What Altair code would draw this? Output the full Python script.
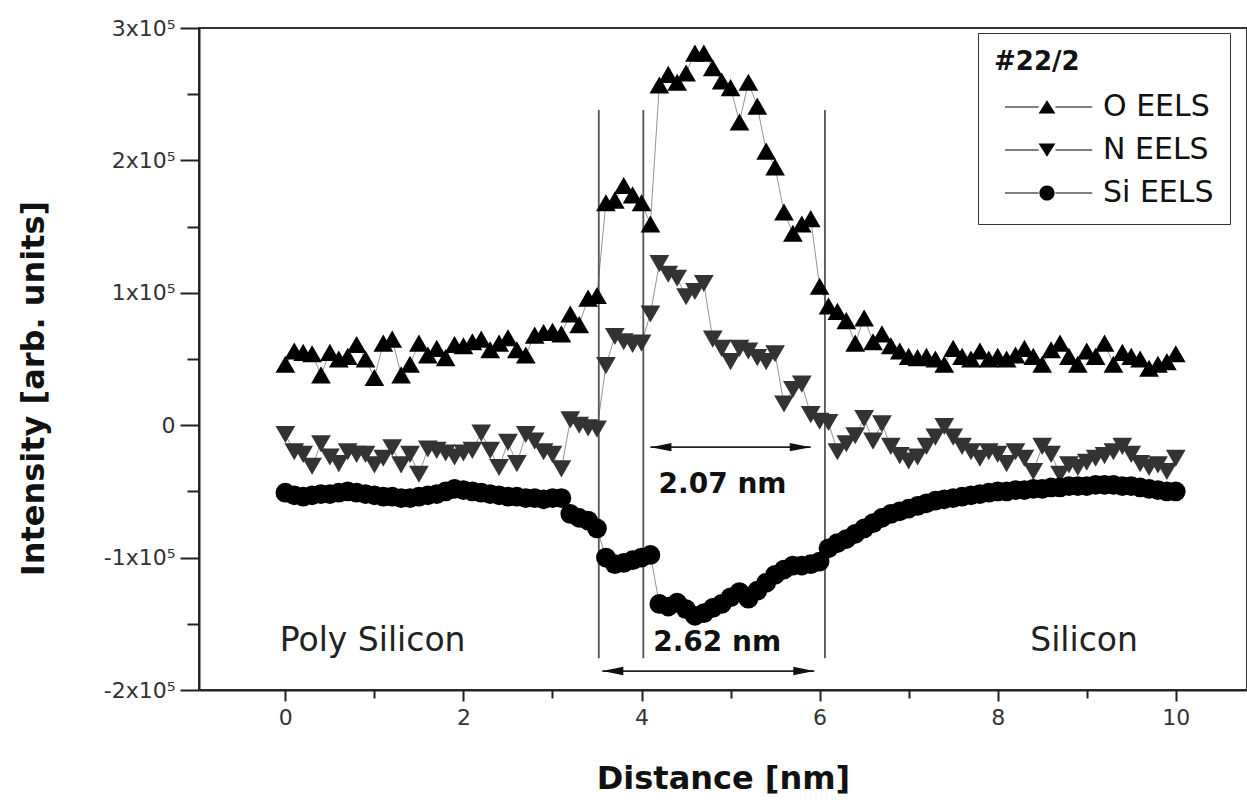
import altair as alt
import pandas as pd

# ---------------- data ----------------
distance = [round(i * 0.1, 1) for i in range(101)]  # 0.0 ... 10.0 nm sample grid

o_eels = [46000, 56000, 55000, 54000, 38000, 55000, 50000, 52000, 61000, 50000,
          36000, 62000, 65000, 38000, 46000, 62000, 53000, 58000, 51000, 61000,
          60000, 63000, 65000, 57000, 62000, 66000, 57000, 53000, 68000, 70000,
          71000, 69000, 84000, 76000, 96000, 98000, 168000, 170000, 181000, 174000,
          168000, 152000, 257000, 265000, 259000, 266000, 281000, 281000, 270000, 260000,
          255000, 229000, 259000, 241000, 207000, 195000, 161000, 145000, 152000, 156000,
          105000, 90000, 86000, 79000, 62000, 81000, 63000, 69000, 60000, 56000,
          52000, 51000, 52000, 50000, 46000, 58000, 52000, 50000, 56000, 50000,
          52000, 50000, 53000, 58000, 52000, 46000, 57000, 62000, 52000, 46000,
          56000, 52000, 62000, 46000, 55000, 52000, 50000, 43000, 46000, 48000,
          54000]

n_eels = [-7000, -20000, -22000, -31000, -14000, -24000, -29000, -20000, -22000, -22000,
          -30000, -25000, -17000, -30000, -22000, -37000, -18000, -19000, -21000, -24000,
          -21000, -19000, -6000, -19000, -32000, -13000, -29000, -7000, -12000, -20000,
          -22000, -33000, 4000, 0, -2000, -3000, 45000, 67000, 63000, 61000,
          62000, 84000, 122000, 114000, 111000, 97000, 101000, 107000, 65000, 58000,
          48000, 58000, 56000, 51000, 48000, 54000, 16000, 27000, 31000, 8000,
          3000, 2000, -20000, -14000, -8000, 5000, -12000, 1000, -16000, -23000,
          -27000, -24000, -16000, -9000, -1000, -9000, -16000, -20000, -25000, -20000,
          -22000, -29000, -20000, -25000, -35000, -16000, -22000, -37000, -30000, -32000,
          -28000, -25000, -23000, -20000, -16000, -22000, -29000, -32000, -30000, -35000,
          -25000]

si_eels = [-51000, -53000, -54000, -53000, -52000, -52000, -51000, -50000, -51000, -52000,
           -53000, -54000, -54000, -55000, -55000, -54000, -53000, -52000, -50000, -48000,
           -49000, -50000, -51000, -52000, -53000, -54000, -54000, -55000, -55000, -56000,
           -55000, -55000, -67000, -70000, -72000, -78000, -100000, -105000, -104000, -102000,
           -100000, -98000, -135000, -137000, -134000, -139000, -144000, -142000, -138000, -135000,
           -130000, -126000, -131000, -125000, -119000, -113000, -109000, -106000, -106000, -105000,
           -103000, -93000, -89000, -86000, -82000, -78000, -74000, -70000, -67000, -65000,
           -63000, -61000, -59000, -57000, -56000, -55000, -54000, -53000, -52000, -51000,
           -50000, -50000, -49000, -49000, -48000, -48000, -47000, -47000, -46000, -46000,
           -46000, -45000, -45000, -45000, -46000, -46000, -47000, -48000, -49000, -50000,
           -50000]

series_names = ["O EELS", "N EELS", "Si EELS"]

# interface marker lines
vline_x = [3.52, 4.02, 6.06]
vline_top = [238000, 238000, 238000]
vline_bottom = [-176000, -176000, -176000]

# width arrows
arrow_left = [4.10, 3.56]
arrow_right = [5.90, 5.94]
arrow_y = [-16600, -185700]

# annotations
note_text = ["2.07 nm", "2.62 nm", "Poly Silicon", "Silicon"]
note_x = [4.91, 4.85, 0.98, 8.97]
note_y = [-51300, -170600, -170600, -170600]
note_bold = [True, True, False, False]

x_major = [0, 2, 4, 6, 8, 10]
x_minor = [1, 3, 5, 7, 9]
y_major = [-200000, -100000, 0, 100000, 200000, 300000]
y_minor = [-150000, -50000, 50000, 150000, 250000]

# ---------------- tables ----------------
rows = []
for name, vals in zip(series_names, [o_eels, n_eels, si_eels]):
    for d, v in zip(distance, vals):
        rows.append({"distance": d, "intensity": v, "series": name})
df = pd.DataFrame(rows)

vlines = pd.DataFrame({"x": vline_x, "top": vline_top, "bottom": vline_bottom})
arrows = pd.DataFrame({"left": arrow_left, "right": arrow_right, "y": arrow_y})
notes = pd.DataFrame({"text": note_text, "x": note_x, "y": note_y, "bold": note_bold})
legend_df = pd.DataFrame({"series": series_names, "distance": [None] * 3, "intensity": [None] * 3})

FONT = "DejaVu Sans"
xscale = alt.Scale(domain=[-0.97, 10.8], nice=False, zero=False)
yscale = alt.Scale(domain=[-200000, 300000], nice=False, zero=False)

# ---------------- axes ----------------
x_axis_main = alt.Axis(orient="bottom", values=x_major, format="d", tickSize=11, tickWidth=2,
                       tickColor="#222", domainColor="#222", domainWidth=2, grid=False,
                       labelFont=FONT, labelFontSize=22, labelColor="#333", labelPadding=6,
                       title="Distance [nm]", titleFont=FONT, titleFontWeight="bold",
                       titleFontSize=32, titleColor="#111", titleBaseline="alphabetic",
                       titleY=98)
y_axis_main = alt.Axis(orient="left", values=y_major, tickSize=19, tickWidth=2,
                       tickColor="#222", domainColor="#222", domainWidth=2, grid=False,
                       labelExpr="datum.value == 0 ? '0' : (datum.value < 0 ? '-' : '') + abs(datum.value/100000) + 'x10\u2075'",
                       labelFont=FONT, labelFontSize=22, labelColor="#333", labelPadding=5,
                       title="Intensity [arb. units]", titleFont=FONT, titleFontWeight="bold",
                       titleFontSize=32, titleColor="#111", titleAngle=270,
                       titleAlign="center", titleBaseline="alphabetic", titleX=-156, titleY=360)
x_axis_minor = alt.Axis(orient="bottom", values=x_minor, tickSize=8, tickWidth=2, tickColor="#222",
                        labels=False, domain=False, grid=False, title=None)
y_axis_minor = alt.Axis(orient="left", values=y_minor, tickSize=12, tickWidth=2, tickColor="#222",
                        labels=False, domain=False, grid=False, title=None)

base = alt.Chart(df)

minor_layer = base.mark_point(opacity=0).encode(
    x=alt.X("distance:Q", scale=xscale, axis=x_axis_minor),
    y=alt.Y("intensity:Q", scale=yscale, axis=y_axis_minor),
)

main_axis_layer = base.mark_point(opacity=0).encode(
    x=alt.X("distance:Q", scale=xscale, axis=x_axis_main),
    y=alt.Y("intensity:Q", scale=yscale, axis=y_axis_main),
)

lines = base.mark_line(color="#777", strokeWidth=0.8).encode(
    x=alt.X("distance:Q", scale=xscale, axis=None),
    y=alt.Y("intensity:Q", scale=yscale, axis=None),
    detail="series:N",
)

vrules = alt.Chart(vlines).mark_rule(color="#555", strokeWidth=1.8).encode(
    x=alt.X("x:Q", scale=xscale, axis=None),
    y=alt.Y("top:Q", scale=yscale, axis=None),
    y2="bottom:Q",
)

shafts = alt.Chart(arrows).mark_rule(color="#222", strokeWidth=1.8).encode(
    x=alt.X("left:Q", scale=xscale, axis=None),
    x2="right:Q",
    y=alt.Y("y:Q", scale=yscale, axis=None),
)
head_left = alt.Chart(arrows).mark_point(filled=True, color="#111", opacity=1, size=110,
                                         shape="M0,0L4,-0.8L4,0.8Z").encode(
    x=alt.X("left:Q", scale=xscale, axis=None),
    y=alt.Y("y:Q", scale=yscale, axis=None),
)
head_right = alt.Chart(arrows).mark_point(filled=True, color="#111", opacity=1, size=110,
                                          shape="M0,0L-4,-0.8L-4,0.8Z").encode(
    x=alt.X("right:Q", scale=xscale, axis=None),
    y=alt.Y("y:Q", scale=yscale, axis=None),
)

points = base.mark_point(filled=True, opacity=1).encode(
    x=alt.X("distance:Q", scale=xscale, axis=None),
    y=alt.Y("intensity:Q", scale=yscale, axis=None),
    shape=alt.Shape("series:N", scale=alt.Scale(domain=series_names,
                                                range=["triangle-up", "triangle-down", "circle"]),
                    legend=None),
    color=alt.Color("series:N", scale=alt.Scale(domain=series_names,
                                                range=["#000000", "#333333", "#000000"]),
                    legend=None),
    size=alt.Size("series:N", scale=alt.Scale(domain=series_names, range=[390, 390, 300]),
                  legend=None),
)

notes_normal = alt.Chart(notes).transform_filter("!datum.bold").mark_text(
    font=FONT, fontSize=33, color="#222", align="center", baseline="alphabetic").encode(
    x=alt.X("x:Q", scale=xscale, axis=None),
    y=alt.Y("y:Q", scale=yscale, axis=None),
    text="text:N",
)
notes_bold = alt.Chart(notes).transform_filter("datum.bold").mark_text(
    font=FONT, fontSize=28, fontWeight="bold", color="#111", align="center",
    baseline="alphabetic").encode(
    x=alt.X("x:Q", scale=xscale, axis=None),
    y=alt.Y("y:Q", scale=yscale, axis=None),
    text="text:N",
)

# legend symbols: short line with the marker in the middle (unit = sqrt(size)/2 px)
lines_path = "M-0.5,-0.07H3.7V0.07H-0.5Z M5.8,-0.07H10.4V0.07H5.8Z "
legend_shapes = [
    lines_path + "M3.7,0.8L4.75,-0.85L5.8,0.8Z",
    lines_path + "M3.7,-0.8L4.75,0.85L5.8,-0.8Z",
    lines_path + "M3.8,0A0.95,0.95,0,1,1,5.7,0A0.95,0.95,0,1,1,3.8,0Z",
]
legend_layer = alt.Chart(legend_df).mark_point(filled=True, color="black", opacity=1, size=256).encode(
    x=alt.X("distance:Q", scale=xscale, axis=None),
    y=alt.Y("intensity:Q", scale=yscale, axis=None),
    shape=alt.Shape("series:N", scale=alt.Scale(domain=series_names, range=legend_shapes),
                    legend=alt.Legend(title="#22/2", orient="none", legendX=779, legendY=5,
                                      strokeColor="#333", fillColor="white", padding=16,
                                      titleFont=FONT, titleFontSize=26, titleFontWeight="bold",
                                      titleColor="#111", titlePadding=17,
                                      labelFont=FONT, labelFontSize=30, labelColor="#111",
                                      labelOffset=79, symbolSize=256, rowPadding=13,
                                      symbolFillColor="black", symbolStrokeWidth=0)),
)

chart = alt.layer(
    minor_layer, main_axis_layer, lines, vrules, shafts, head_left, head_right,
    points, notes_normal, notes_bold, legend_layer,
).resolve_scale(
    shape="independent", color="independent", size="independent"
).resolve_axis(
    x="independent", y="independent"
).properties(
    width=1048, height=662,
    padding={"left": 199, "top": 28, "right": 0, "bottom": 112},
    autosize=alt.AutoSizeParams(type="none"),
    background="white",
).configure_view(stroke="#333", strokeWidth=2)

chart.save("out.html", embed_options={"renderer": "svg", "actions": False})
